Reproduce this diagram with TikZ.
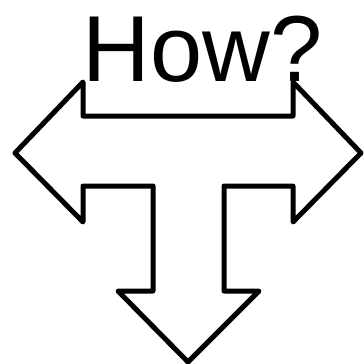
\documentclass[tikz,border=0pt]{standalone}
\usepackage{fontspec}
\setmainfont{Liberation Sans}
\usetikzlibrary{calc}

\begin{document}
\begin{tikzpicture}[x=0.03cm,y=-0.03cm,line join=round,line cap=round]
\useasboundingbox (0,0) rectangle (363,364);
\coordinate (L) at (15,153);
\coordinate (R) at (361,153);
\coordinate (D) at (188,362);
% outline of the three way arrow
\draw[line width=5*0.03cm] (83,82)--(83,116)--(293,116)--(293,82)--(R)--(293,222)--(293,186)
  --(224,186)--(224,291)--(259,291)--(D)--(118,291)--(153,291)--(153,186)
  --(83,186)--(83,222)--(L)--cycle;
\node[anchor=base,inner sep=0pt,font=\fontsize{80}{90}\selectfont] (how) at (202.5,81) {How?};
\end{tikzpicture}
\end{document}
